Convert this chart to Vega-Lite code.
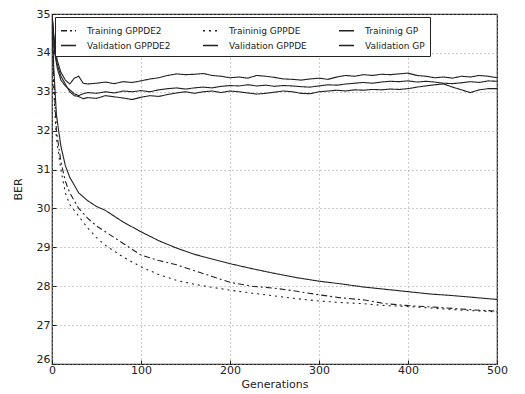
{
  "$schema": "https://vega.github.io/schema/vega-lite/v6.json",
  "width": 445,
  "height": 350,
  "autosize": {"type": "none"},
  "padding": {"left": 52, "top": 14, "right": 28, "bottom": 30},
  "background": "white",
  "config": {
    "font": "DejaVu Sans",
    "view": {"stroke": "#222", "strokeWidth": 1.2},
    "axis": {
      "grid": true,
      "gridColor": "#999",
      "gridDash": [1, 3],
      "gridWidth": 1,
      "domain": false,
      "ticks": true,
      "tickColor": "#222",
      "tickSize": -4,
      "labelFlush": false,
      "labelFont": "DejaVu Sans",
      "labelFontSize": 11,
      "labelColor": "#222",
      "titleFont": "DejaVu Sans",
      "titleFontSize": 11,
      "titleFontWeight": "normal",
      "titleColor": "#222"
    }
  },
  "data": {"values": [
    {"g":0,"s":"Training GPPDE2","v":35.0},{"g":2,"s":"Training GPPDE2","v":33.3},{"g":5,"s":"Training GPPDE2","v":32.0},{"g":10,"s":"Training GPPDE2","v":31.2},{"g":15,"s":"Training GPPDE2","v":30.7},{"g":20,"s":"Training GPPDE2","v":30.4},{"g":30,"s":"Training GPPDE2","v":30.0},{"g":40,"s":"Training GPPDE2","v":29.75},{"g":50,"s":"Training GPPDE2","v":29.55},{"g":60,"s":"Training GPPDE2","v":29.4},{"g":80,"s":"Training GPPDE2","v":29.1},{"g":100,"s":"Training GPPDE2","v":28.8},{"g":120,"s":"Training GPPDE2","v":28.66},{"g":140,"s":"Training GPPDE2","v":28.55},{"g":160,"s":"Training GPPDE2","v":28.4},{"g":180,"s":"Training GPPDE2","v":28.25},{"g":200,"s":"Training GPPDE2","v":28.1},{"g":225,"s":"Training GPPDE2","v":28.0},{"g":250,"s":"Training GPPDE2","v":27.95},{"g":275,"s":"Training GPPDE2","v":27.87},{"g":300,"s":"Training GPPDE2","v":27.78},{"g":325,"s":"Training GPPDE2","v":27.7},{"g":350,"s":"Training GPPDE2","v":27.65},{"g":375,"s":"Training GPPDE2","v":27.55},{"g":400,"s":"Training GPPDE2","v":27.5},{"g":425,"s":"Training GPPDE2","v":27.47},{"g":450,"s":"Training GPPDE2","v":27.43},{"g":475,"s":"Training GPPDE2","v":27.39},{"g":500,"s":"Training GPPDE2","v":27.36},

    {"g":0,"s":"Traininig GPPDE","v":35.0},{"g":2,"s":"Traininig GPPDE","v":33.0},{"g":5,"s":"Traininig GPPDE","v":31.8},{"g":10,"s":"Traininig GPPDE","v":31.0},{"g":15,"s":"Traininig GPPDE","v":30.4},{"g":20,"s":"Traininig GPPDE","v":30.1},{"g":30,"s":"Traininig GPPDE","v":29.8},{"g":40,"s":"Traininig GPPDE","v":29.5},{"g":50,"s":"Traininig GPPDE","v":29.25},{"g":60,"s":"Traininig GPPDE","v":29.05},{"g":80,"s":"Traininig GPPDE","v":28.75},{"g":100,"s":"Traininig GPPDE","v":28.5},{"g":120,"s":"Traininig GPPDE","v":28.3},{"g":140,"s":"Traininig GPPDE","v":28.15},{"g":160,"s":"Traininig GPPDE","v":28.05},{"g":180,"s":"Traininig GPPDE","v":27.97},{"g":200,"s":"Traininig GPPDE","v":27.9},{"g":225,"s":"Traininig GPPDE","v":27.82},{"g":250,"s":"Traininig GPPDE","v":27.75},{"g":275,"s":"Traininig GPPDE","v":27.68},{"g":300,"s":"Traininig GPPDE","v":27.62},{"g":325,"s":"Traininig GPPDE","v":27.58},{"g":350,"s":"Traininig GPPDE","v":27.55},{"g":375,"s":"Traininig GPPDE","v":27.5},{"g":400,"s":"Traininig GPPDE","v":27.48},{"g":425,"s":"Traininig GPPDE","v":27.44},{"g":450,"s":"Traininig GPPDE","v":27.4},{"g":475,"s":"Traininig GPPDE","v":27.37},{"g":500,"s":"Traininig GPPDE","v":27.34},

    {"g":0,"s":"Traininig GP","v":35.0},{"g":2,"s":"Traininig GP","v":33.6},{"g":5,"s":"Traininig GP","v":32.4},{"g":10,"s":"Traininig GP","v":31.6},{"g":15,"s":"Traininig GP","v":31.1},{"g":20,"s":"Traininig GP","v":30.8},{"g":30,"s":"Traininig GP","v":30.4},{"g":40,"s":"Traininig GP","v":30.2},{"g":50,"s":"Traininig GP","v":30.05},{"g":60,"s":"Traininig GP","v":29.95},{"g":80,"s":"Traininig GP","v":29.65},{"g":100,"s":"Traininig GP","v":29.4},{"g":120,"s":"Traininig GP","v":29.17},{"g":140,"s":"Traininig GP","v":28.98},{"g":160,"s":"Traininig GP","v":28.82},{"g":180,"s":"Traininig GP","v":28.7},{"g":200,"s":"Traininig GP","v":28.58},{"g":225,"s":"Traininig GP","v":28.45},{"g":250,"s":"Traininig GP","v":28.33},{"g":275,"s":"Traininig GP","v":28.22},{"g":300,"s":"Traininig GP","v":28.13},{"g":325,"s":"Traininig GP","v":28.06},{"g":350,"s":"Traininig GP","v":27.98},{"g":375,"s":"Traininig GP","v":27.92},{"g":400,"s":"Traininig GP","v":27.86},{"g":425,"s":"Traininig GP","v":27.8},{"g":450,"s":"Traininig GP","v":27.76},{"g":475,"s":"Traininig GP","v":27.71},{"g":500,"s":"Traininig GP","v":27.66},

    {"g":0,"s":"Validation GPPDE2","v":35.0},{"g":3,"s":"Validation GPPDE2","v":34.2},{"g":6,"s":"Validation GPPDE2","v":33.8},{"g":10,"s":"Validation GPPDE2","v":33.5},{"g":15,"s":"Validation GPPDE2","v":33.3},{"g":20,"s":"Validation GPPDE2","v":33.2},{"g":25,"s":"Validation GPPDE2","v":33.35},{"g":30,"s":"Validation GPPDE2","v":33.4},{"g":35,"s":"Validation GPPDE2","v":33.22},{"g":40,"s":"Validation GPPDE2","v":33.2},{"g":50,"s":"Validation GPPDE2","v":33.22},{"g":60,"s":"Validation GPPDE2","v":33.25},{"g":70,"s":"Validation GPPDE2","v":33.21},{"g":80,"s":"Validation GPPDE2","v":33.26},{"g":90,"s":"Validation GPPDE2","v":33.24},{"g":100,"s":"Validation GPPDE2","v":33.28},{"g":110,"s":"Validation GPPDE2","v":33.33},{"g":120,"s":"Validation GPPDE2","v":33.36},{"g":130,"s":"Validation GPPDE2","v":33.42},{"g":140,"s":"Validation GPPDE2","v":33.46},{"g":150,"s":"Validation GPPDE2","v":33.44},{"g":160,"s":"Validation GPPDE2","v":33.45},{"g":170,"s":"Validation GPPDE2","v":33.47},{"g":180,"s":"Validation GPPDE2","v":33.42},{"g":190,"s":"Validation GPPDE2","v":33.4},{"g":200,"s":"Validation GPPDE2","v":33.36},{"g":210,"s":"Validation GPPDE2","v":33.38},{"g":220,"s":"Validation GPPDE2","v":33.35},{"g":230,"s":"Validation GPPDE2","v":33.42},{"g":240,"s":"Validation GPPDE2","v":33.4},{"g":250,"s":"Validation GPPDE2","v":33.37},{"g":260,"s":"Validation GPPDE2","v":33.33},{"g":270,"s":"Validation GPPDE2","v":33.32},{"g":280,"s":"Validation GPPDE2","v":33.3},{"g":290,"s":"Validation GPPDE2","v":33.33},{"g":300,"s":"Validation GPPDE2","v":33.35},{"g":310,"s":"Validation GPPDE2","v":33.32},{"g":320,"s":"Validation GPPDE2","v":33.38},{"g":330,"s":"Validation GPPDE2","v":33.42},{"g":340,"s":"Validation GPPDE2","v":33.4},{"g":350,"s":"Validation GPPDE2","v":33.44},{"g":360,"s":"Validation GPPDE2","v":33.42},{"g":370,"s":"Validation GPPDE2","v":33.45},{"g":380,"s":"Validation GPPDE2","v":33.44},{"g":390,"s":"Validation GPPDE2","v":33.46},{"g":400,"s":"Validation GPPDE2","v":33.48},{"g":410,"s":"Validation GPPDE2","v":33.42},{"g":420,"s":"Validation GPPDE2","v":33.4},{"g":430,"s":"Validation GPPDE2","v":33.36},{"g":440,"s":"Validation GPPDE2","v":33.38},{"g":450,"s":"Validation GPPDE2","v":33.35},{"g":460,"s":"Validation GPPDE2","v":33.4},{"g":470,"s":"Validation GPPDE2","v":33.38},{"g":480,"s":"Validation GPPDE2","v":33.42},{"g":490,"s":"Validation GPPDE2","v":33.4},{"g":500,"s":"Validation GPPDE2","v":33.36},

    {"g":0,"s":"Validation GPPDE","v":35.0},{"g":3,"s":"Validation GPPDE","v":34.0},{"g":6,"s":"Validation GPPDE","v":33.6},{"g":10,"s":"Validation GPPDE","v":33.3},{"g":15,"s":"Validation GPPDE","v":33.15},{"g":20,"s":"Validation GPPDE","v":33.05},{"g":25,"s":"Validation GPPDE","v":32.95},{"g":30,"s":"Validation GPPDE","v":32.9},{"g":35,"s":"Validation GPPDE","v":32.95},{"g":40,"s":"Validation GPPDE","v":32.98},{"g":50,"s":"Validation GPPDE","v":32.96},{"g":60,"s":"Validation GPPDE","v":33.0},{"g":70,"s":"Validation GPPDE","v":32.97},{"g":80,"s":"Validation GPPDE","v":33.02},{"g":90,"s":"Validation GPPDE","v":33.0},{"g":100,"s":"Validation GPPDE","v":33.03},{"g":110,"s":"Validation GPPDE","v":33.0},{"g":120,"s":"Validation GPPDE","v":33.05},{"g":130,"s":"Validation GPPDE","v":33.08},{"g":140,"s":"Validation GPPDE","v":33.1},{"g":150,"s":"Validation GPPDE","v":33.07},{"g":160,"s":"Validation GPPDE","v":33.1},{"g":170,"s":"Validation GPPDE","v":33.12},{"g":180,"s":"Validation GPPDE","v":33.1},{"g":190,"s":"Validation GPPDE","v":33.14},{"g":200,"s":"Validation GPPDE","v":33.16},{"g":210,"s":"Validation GPPDE","v":33.15},{"g":220,"s":"Validation GPPDE","v":33.18},{"g":230,"s":"Validation GPPDE","v":33.15},{"g":240,"s":"Validation GPPDE","v":33.17},{"g":250,"s":"Validation GPPDE","v":33.14},{"g":260,"s":"Validation GPPDE","v":33.16},{"g":270,"s":"Validation GPPDE","v":33.15},{"g":280,"s":"Validation GPPDE","v":33.13},{"g":290,"s":"Validation GPPDE","v":33.12},{"g":300,"s":"Validation GPPDE","v":33.15},{"g":310,"s":"Validation GPPDE","v":33.18},{"g":320,"s":"Validation GPPDE","v":33.17},{"g":330,"s":"Validation GPPDE","v":33.2},{"g":340,"s":"Validation GPPDE","v":33.22},{"g":350,"s":"Validation GPPDE","v":33.24},{"g":360,"s":"Validation GPPDE","v":33.22},{"g":370,"s":"Validation GPPDE","v":33.25},{"g":380,"s":"Validation GPPDE","v":33.27},{"g":390,"s":"Validation GPPDE","v":33.26},{"g":400,"s":"Validation GPPDE","v":33.28},{"g":410,"s":"Validation GPPDE","v":33.25},{"g":420,"s":"Validation GPPDE","v":33.27},{"g":430,"s":"Validation GPPDE","v":33.25},{"g":440,"s":"Validation GPPDE","v":33.22},{"g":450,"s":"Validation GPPDE","v":33.21},{"g":460,"s":"Validation GPPDE","v":33.23},{"g":470,"s":"Validation GPPDE","v":33.26},{"g":480,"s":"Validation GPPDE","v":33.24},{"g":490,"s":"Validation GPPDE","v":33.28},{"g":500,"s":"Validation GPPDE","v":33.27},

    {"g":0,"s":"Validation GP","v":35.0},{"g":3,"s":"Validation GP","v":34.1},{"g":6,"s":"Validation GP","v":33.7},{"g":10,"s":"Validation GP","v":33.4},{"g":15,"s":"Validation GP","v":33.2},{"g":20,"s":"Validation GP","v":33.0},{"g":25,"s":"Validation GP","v":32.9},{"g":30,"s":"Validation GP","v":32.88},{"g":35,"s":"Validation GP","v":32.82},{"g":40,"s":"Validation GP","v":32.85},{"g":50,"s":"Validation GP","v":32.83},{"g":60,"s":"Validation GP","v":32.9},{"g":70,"s":"Validation GP","v":32.87},{"g":80,"s":"Validation GP","v":32.84},{"g":90,"s":"Validation GP","v":32.8},{"g":100,"s":"Validation GP","v":32.86},{"g":110,"s":"Validation GP","v":32.9},{"g":120,"s":"Validation GP","v":32.88},{"g":130,"s":"Validation GP","v":32.93},{"g":140,"s":"Validation GP","v":32.97},{"g":150,"s":"Validation GP","v":33.0},{"g":160,"s":"Validation GP","v":32.96},{"g":170,"s":"Validation GP","v":33.0},{"g":180,"s":"Validation GP","v":33.02},{"g":190,"s":"Validation GP","v":32.98},{"g":200,"s":"Validation GP","v":33.02},{"g":210,"s":"Validation GP","v":33.0},{"g":220,"s":"Validation GP","v":32.97},{"g":230,"s":"Validation GP","v":32.94},{"g":240,"s":"Validation GP","v":32.96},{"g":250,"s":"Validation GP","v":32.99},{"g":260,"s":"Validation GP","v":33.02},{"g":270,"s":"Validation GP","v":33.0},{"g":280,"s":"Validation GP","v":32.96},{"g":290,"s":"Validation GP","v":32.95},{"g":300,"s":"Validation GP","v":33.0},{"g":310,"s":"Validation GP","v":33.02},{"g":320,"s":"Validation GP","v":33.04},{"g":330,"s":"Validation GP","v":33.02},{"g":340,"s":"Validation GP","v":33.05},{"g":350,"s":"Validation GP","v":33.04},{"g":360,"s":"Validation GP","v":33.06},{"g":370,"s":"Validation GP","v":33.05},{"g":380,"s":"Validation GP","v":33.07},{"g":390,"s":"Validation GP","v":33.06},{"g":400,"s":"Validation GP","v":33.08},{"g":410,"s":"Validation GP","v":33.12},{"g":420,"s":"Validation GP","v":33.15},{"g":430,"s":"Validation GP","v":33.18},{"g":440,"s":"Validation GP","v":33.2},{"g":450,"s":"Validation GP","v":33.12},{"g":460,"s":"Validation GP","v":33.05},{"g":470,"s":"Validation GP","v":32.98},{"g":480,"s":"Validation GP","v":33.05},{"g":490,"s":"Validation GP","v":33.08},{"g":500,"s":"Validation GP","v":33.08}
  ]},
  "mark": {"type": "line", "color": "#222", "strokeWidth": 1.1, "clip": true},
  "encoding": {
    "x": {
      "field": "g", "type": "quantitative", "title": "Generations",
      "scale": {"domain": [0, 500], "nice": false},
      "axis": {"values": [0, 100, 200, 300, 400, 500], "titlePadding": 3, "labelPadding": 4}
    },
    "y": {
      "field": "v", "type": "quantitative", "title": "BER",
      "scale": {"domain": [26, 35], "nice": false, "zero": false},
      "axis": {
        "values": [26, 27, 28, 29, 30, 31, 32, 33, 34, 35],
        "titlePadding": 13,
        "labelPadding": 6,
        "labelOffset": {"condition": {"test": "datum.value == 26", "value": -5}, "value": 0}
      }
    },
    "strokeDash": {
      "field": "s", "type": "nominal",
      "scale": {
        "domain": ["Training GPPDE2", "Validation GPPDE2", "Traininig GPPDE", "Validation GPPDE", "Traininig GP", "Validation GP"],
        "range": [[6, 3, 2, 3], [1, 0], [2, 4], [1, 0], [1, 0], [1, 0]]
      },
      "legend": {
        "title": null,
        "orient": "none",
        "legendX": 3,
        "legendY": 3,
        "columns": 3,
        "columnPadding": 29,
        "rowPadding": 1,
        "symbolType": "stroke",
        "symbolSize": 225,
        "symbolStrokeWidth": 1.3,
        "symbolStrokeColor": "#222",
        "labelFont": "DejaVu Sans",
        "labelFontSize": 9,
        "labelColor": "#222",
        "labelOffset": 10,
        "strokeColor": "#222",
        "fillColor": "white",
        "padding": 5,
        "cornerRadius": 0
      }
    }
  }
}
